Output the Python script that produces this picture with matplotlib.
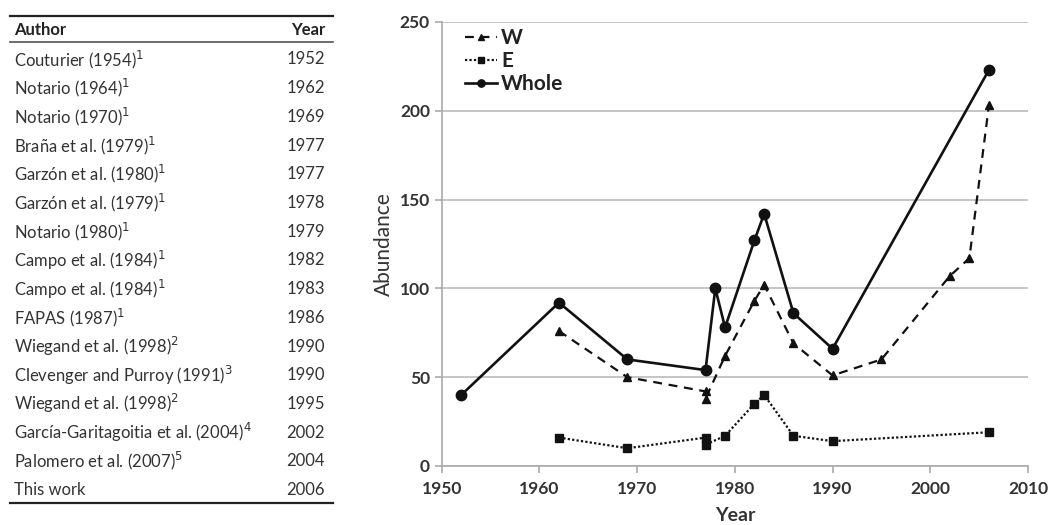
import matplotlib

matplotlib.use("Agg")
import matplotlib.pyplot as plt

plt.rcParams["font.family"] = ["Lato", "DejaVu Sans"]
plt.rcParams["mathtext.fontset"] = "custom"
plt.rcParams["mathtext.rm"] = "Liberation Sans Narrow"
plt.rcParams["mathtext.it"] = "Liberation Sans Narrow"
plt.rcParams["mathtext.bf"] = "Liberation Sans Narrow:bold"

TABLE_FONT = ["Liberation Sans Narrow", "Lato", "DejaVu Sans"]

# table on the left
authors = [
    "Couturier (1954)", "Notario (1964)", "Notario (1970)", "Braña et al. (1979)",
    "Garzón et al. (1980)", "Garzón et al. (1979)", "Notario (1980)",
    "Campo et al. (1984)", "Campo et al. (1984)", "FAPAS (1987)",
    "Wiegand et al. (1998)", "Clevenger and Purroy (1991)", "Wiegand et al. (1998)",
    "García-Garitagoitia et al. (2004)", "Palomero et al. (2007)", "This work",
]
notes = ["1", "1", "1", "1", "1", "1", "1", "1", "1", "1", "2", "3", "2", "4", "5", ""]
table_years = [1952, 1962, 1969, 1977, 1977, 1978, 1979, 1982, 1983, 1986,
               1990, 1990, 1995, 2002, 2004, 2006]

# series
whole_x = [1952, 1962, 1969, 1977, 1978, 1979, 1982, 1983, 1986, 1990, 2006]
whole_y = [40, 92, 60, 54, 100, 78, 127, 142, 86, 66, 223]
w_x = [1962, 1969, 1977, 1977, 1979, 1982, 1983, 1986, 1990, 1995, 2002, 2004, 2006]
w_y = [76, 50, 42, 38, 62, 93, 102, 69, 51, 60, 107, 117, 203]
e_x = [1962, 1969, 1977, 1977, 1979, 1982, 1983, 1986, 1990, 2006]
e_y = [16, 10, 16, 12, 17, 35, 40, 17, 14, 19]

W, H = 1051, 525
fig = plt.figure(figsize=(W / 100, H / 100), dpi=100)

# ---- table ----
tab = fig.add_axes([0, 0, 1, 1])
tab.set_xlim(0, W)
tab.set_ylim(H, 0)
tab.axis("off")
txt_color = "#333333"
tab.plot([10, 333], [16, 16], color="#222222", lw=1.6)
tab.plot([10, 333], [42, 42], color="#555555", lw=1.2)
tab.plot([10, 333], [503, 503], color="#222222", lw=1.6)
tab.text(14, 30, "Author", fontsize=12, fontweight="bold", color="#222222",
         va="center", family=TABLE_FONT)
tab.text(325, 30, "Year", fontsize=12, fontweight="bold", color="#222222",
         va="center", ha="right", family=TABLE_FONT)
for i, (name, note, yr) in enumerate(zip(authors, notes, table_years)):
    y = 59.5 + i * 28.7
    label = name + (r"$^{" + note + "}$" if note else "")
    tab.text(14, y, label, fontsize=12, color=txt_color, va="center", family=TABLE_FONT)
    tab.text(325, y, str(yr), fontsize=12, color=txt_color, va="center", ha="right",
             family=TABLE_FONT)

# ---- chart ----
ax = fig.add_axes([441.7 / W, (H - 466) / H, 586.3 / W, 444 / H])
ax.plot(w_x, w_y, linestyle=(0, (4, 3)), color="#111111", lw=1.6,
        marker="^", markersize=6, label="W")
ax.plot(e_x, e_y, linestyle=(0, (1, 1)), color="#111111", lw=1.6,
        marker="s", markersize=6, label="E")
ax.plot(whole_x, whole_y, linestyle="-", color="#111111", lw=1.9,
        marker="o", markersize=7.5, label="Whole")

ax.set_xlim(1950, 2010)
ax.set_ylim(0, 250)
ax.set_xticks(range(1950, 2011, 10))
ax.set_yticks(range(0, 251, 50))
ax.grid(True, axis="y", color="#bbbbbb", lw=1.2)
ax.set_axisbelow(True)
for side in ["top", "right"]:
    ax.spines[side].set_visible(False)
for side in ["left", "bottom"]:
    ax.spines[side].set_color("#aaaaaa")
    ax.spines[side].set_linewidth(1.2)
ax.tick_params(axis="both", colors="#aaaaaa", width=1.2, length=5,
               labelcolor="#333333", labelsize=12.5)
ax.tick_params(axis="x", pad=6)
for lab in ax.get_xticklabels() + ax.get_yticklabels():
    lab.set_fontweight("bold")
ax.set_ylabel("Abundance", fontsize=15, color="#333333", labelpad=4)
ax.set_xlabel("Year", fontsize=14, color="#333333", fontweight="bold", labelpad=7)

leg = ax.legend(loc="upper left", frameon=False, handlelength=1.55, handletextpad=0.2,
                labelspacing=0.15, borderaxespad=0.0, bbox_to_anchor=(0.025, 1.005),
                markerscale=0.7, prop={"weight": "bold", "size": 15})
for t in leg.get_texts():
    t.set_color("#222222")

fig.savefig("out.png", dpi=100)
